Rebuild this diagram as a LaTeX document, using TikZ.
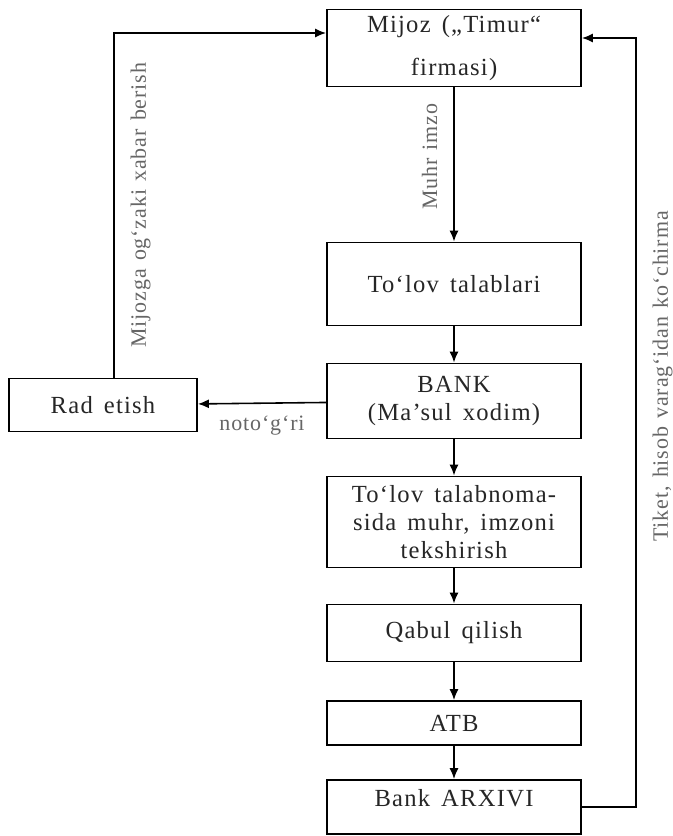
\documentclass[tikz,border=0pt]{standalone}
\usepackage{fontspec}
\setmainfont{Liberation Serif}[LetterSpace=5,WordSpace=1.5]
\newfontfamily\lblfont{Liberation Serif}[LetterSpace=4,WordSpace=1.3]
\usepackage{tikz}
\usetikzlibrary{positioning,arrows.meta,calc}

\begin{document}
\begin{tikzpicture}[x=0.02cm,y=-0.02cm,
  box/.style={draw,line width=1pt,minimum width=5.08cm,align=center,text=black!85,font=\fontsize{14}{16}\selectfont},
  lbl/.style={text=black!60,font=\lblfont\fontsize{12.5}{14}\selectfont,inner sep=7pt},
  lblv/.style={lbl,rotate=90,inner sep=9pt},
  link/.style={line width=0.9pt,-{Latex[length=2.2mm,width=1.8mm]}}]
\useasboundingbox (0,0) rectangle (673,836);
\node[box,minimum height=1.44cm] (mijoz) at (454,48) {Mijoz („Timur“\\[0.3cm]firmasi)};
\node[box,minimum height=1.66cm] (talablar) at (454,284) {To‘lov talablari};
\node[box,minimum height=1.5cm] (bank) at (454,401) {BANK\\(Ma’sul xodim)};
\node[box,minimum width=3.76cm,minimum height=1.06cm] (rad) at (103,405) {Rad etish};
\node[box,minimum height=1.82cm] (tekshir) at (454,522) {To‘lov talabnoma-\\sida muhr, imzoni\\tekshirish};
\node[box,minimum height=1.14cm] (qabul) at (454,633) {Qabul qilish};
\node[box,minimum height=0.88cm] (atb) at (454,723) {ATB};
\node[box,minimum height=1.08cm,text depth=0.36cm] (arxiv) at (454,807) {Bank ARXIVI};
\coordinate (rtop) at (636,38);
\draw[link] (mijoz) -- node[lblv,pos=0.45,anchor=south] {Muhr imzo} (talablar);
\draw[link] (talablar) -- (bank);
\draw[link] (bank) -- node[lbl,below] {noto‘g‘ri} (rad);
\draw[link] ([xshift=0.22cm]rad.north) |- node[lblv,pos=0.25,anchor=north] {Mijozga og‘zaki xabar berish} ([yshift=0.3cm]mijoz.west);
\draw[link] (bank) -- (tekshir);
\draw[link] (tekshir) -- (qabul);
\draw[link] (qabul) -- (atb);
\draw[link] (atb) -- (arxiv);
\draw[link] (arxiv.east) -| node[lblv,pos=0.78,anchor=north] {Tiket, hisob varag‘idan ko‘chirma} (rtop) -- ([yshift=0.2cm]mijoz.east);
\end{tikzpicture}
\end{document}
